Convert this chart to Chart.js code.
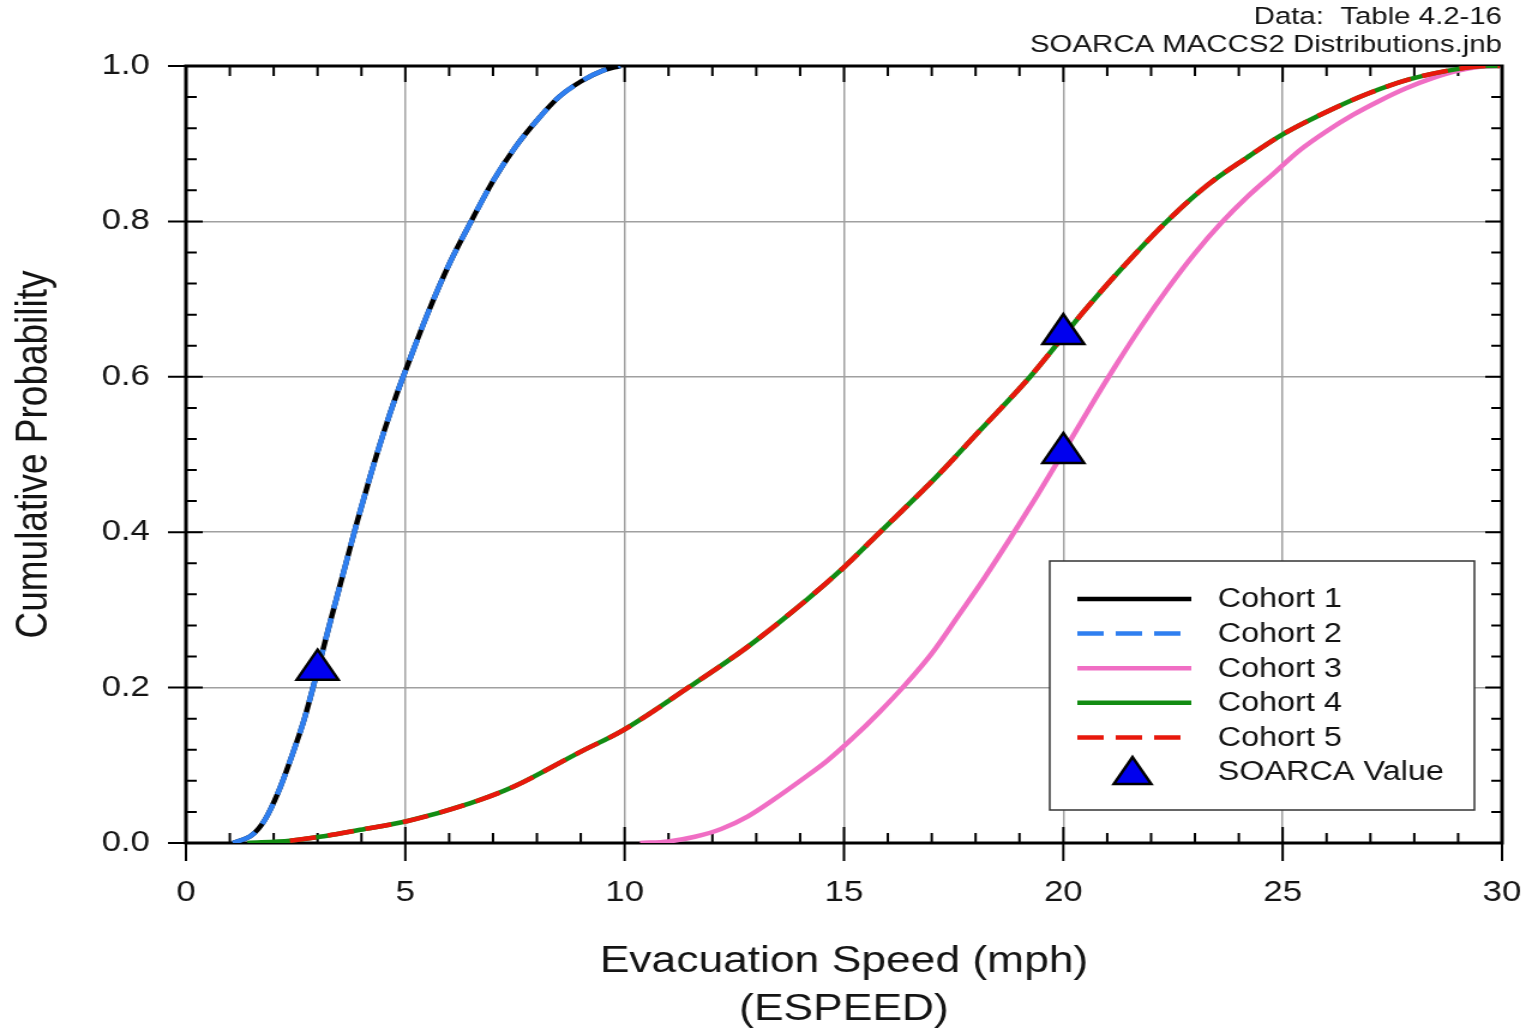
<!DOCTYPE html>
<html>
<head>
<meta charset="utf-8">
<script src="https://cdn.jsdelivr.net/npm/chart.js@4.4.0/dist/chart.umd.min.js"></script>
<style>
html,body{margin:0;padding:0;background:#fff;overflow:hidden}
/* the source picture is stretched sideways, so the chart is too */
#wrap{width:1277px;height:1030px;transform:scaleX(1.19969);transform-origin:0 0}
</style>
</head>
<body>
<div id="wrap"><canvas id="graph" width="1277" height="1030"></canvas></div>
<script>
// cohort 1 and 2 share one distribution, cohort 4 and 5 too
const cohort12Speed=[1.07,1.5,1.8,2.1,2.4,2.7,3.0,3.3,3.6,3.9,4.2,4.5,4.8,5.1,5.5,6.0,6.5,7.0,7.5,8.0,8.5,9.0,9.5,9.9]
const cohort12Prob=[0,0.01,0.03,0.065,0.11,0.16,0.222,0.287,0.35,0.413,0.472,0.527,0.577,0.622,0.68,0.745,0.8,0.852,0.895,0.93,0.96,0.98,0.994,1.0]
const cohort3Speed=[10.35,11.0,11.6,12.2,12.8,13.4,14.0,14.6,15.2,15.8,16.4,17.0,17.6,18.2,18.8,19.4,20.0,20.6,21.2,21.8,22.4,23.0,23.6,24.2,24.8,25.4,26.0,26.6,27.2,27.8,28.4,29.0,29.5,29.95]
const cohort3Prob=[0,0.002,0.008,0.018,0.034,0.056,0.08,0.105,0.135,0.168,0.204,0.244,0.292,0.341,0.393,0.447,0.503,0.56,0.615,0.667,0.715,0.759,0.798,0.832,0.862,0.892,0.916,0.937,0.955,0.971,0.984,0.994,0.999,1.0]
const cohort45Speed=[1.4,2.37,3.05,3.97,5.03,6.47,7.45,8.98,9.96,11.45,12.79,14.15,15.0,15.82,17.12,18.1,19.24,20.0,20.45,21.29,22.36,23.27,24.18,25.0,26.15,26.92,27.9,28.97,29.6,29.95]
const cohort45Prob=[0,0.003,0.008,0.017,0.028,0.051,0.072,0.117,0.145,0.2,0.252,0.313,0.355,0.4,0.472,0.531,0.6,0.652,0.683,0.737,0.8,0.846,0.882,0.912,0.945,0.964,0.983,0.996,1.0,1.0]
const soarcaSpeed=[3,20,20]
const soarcaProb=[0.223,0.655,0.502]
const xTicks=[0,5,10,15,20,25,30]
const xTickLabels=['0','5','10','15','20','25','30']
const yTicks=[0,0.2,0.4,0.6,0.8,1.0]
const yTickLabels=['0.0','0.2','0.4','0.6','0.8','1.0']
const noteLines=['Data:  Table 4.2-16','SOARCA MACCS2 Distributions.jnb']

const FONT="'Liberation Sans', Arial, sans-serif"
const INK='#141414'
const DASH=[22,10]

function pts(xs,ys){
    return xs.map((x,i)=>({x:x,y:ys[i]}))
}
function curve(label,xs,ys,color,dash,order){
    return {
        label:label,
        data:pts(xs,ys),
        showLine:true,
        borderColor:color,
        backgroundColor:color,
        borderWidth:4.5,
        borderDash:dash,
        pointRadius:0,
        cubicInterpolationMode:'monotone',
        order:order
    }
}

// frame and the little inward tick marks (every 1 mph / 0.04)
const frameTicks={
    id:'frameTicks',
    beforeDatasetsDraw(chart){
        const ctx=chart.ctx
        const a=chart.chartArea
        const sx=chart.scales.x, sy=chart.scales.y
        ctx.save()
        ctx.strokeStyle='#000'
        ctx.lineWidth=2
        ctx.beginPath()
        for(let v=0;v<=30;v++){
            const px=sx.getPixelForValue(v)
            const major=v%5==0
            const len=major?16:10
            ctx.moveTo(px,a.bottom+(major?18:0)); ctx.lineTo(px,a.bottom-len)
            ctx.moveTo(px,a.top); ctx.lineTo(px,a.top+len)
        }
        for(let k=0;k<=25;k++){
            const py=sy.getPixelForValue(k*0.04)
            const major=k%5==0
            const len=major?14:9
            ctx.moveTo(a.left-(major?15:0),py); ctx.lineTo(a.left+len,py)
            ctx.moveTo(a.right,py); ctx.lineTo(a.right-len,py)
        }
        ctx.stroke()
        ctx.lineWidth=3
        ctx.strokeRect(a.left,a.top,a.right-a.left,a.bottom-a.top)
        ctx.restore()
    }
}

function triangle(ctx,x,y,r){
    ctx.beginPath()
    ctx.moveTo(x,y-r)
    ctx.lineTo(x+r*Math.sin(Math.PI*2/3),y+r/2)
    ctx.lineTo(x-r*Math.sin(Math.PI*2/3),y+r/2)
    ctx.closePath()
    ctx.fill()
    ctx.stroke()
}

const boxLegend={
    id:'boxLegend',
    afterDraw(chart){
        const ctx=chart.ctx
        const a=chart.chartArea
        const left=a.right-377, top=561, w=354, h=249
        ctx.save()
        ctx.fillStyle='#fff'
        ctx.fillRect(left,top,w,h)
        ctx.strokeStyle='#333'
        ctx.lineWidth=1.5
        ctx.strokeRect(left,top,w,h)
        ctx.font='27px '+FONT
        ctx.textBaseline='middle'
        chart.data.datasets.forEach((ds,i)=>{
            const y=top+38+i*34.6
            if(ds.pointStyle=='triangle'){
                ctx.fillStyle=ds.backgroundColor
                ctx.strokeStyle=ds.borderColor
                ctx.lineWidth=2.5
                triangle(ctx,left+69,y+3,18)
            }else{
                ctx.strokeStyle=ds.borderColor
                ctx.lineWidth=4.5
                ctx.setLineDash(ds.borderDash||[])
                ctx.beginPath()
                ctx.moveTo(left+23,y)
                ctx.lineTo(left+118,y)
                ctx.stroke()
                ctx.setLineDash([])
            }
            ctx.fillStyle=INK
            ctx.fillText(ds.label,left+140,y+1)
        })
        ctx.restore()
    }
}

const topNote={
    id:'topNote',
    afterDraw(chart){
        const ctx=chart.ctx
        ctx.save()
        ctx.font='24.5px '+FONT
        ctx.fillStyle=INK
        ctx.textAlign='right'
        ctx.textBaseline='middle'
        noteLines.forEach((t,i)=>ctx.fillText(t,chart.chartArea.right,17+i*28))
        ctx.restore()
    }
}

Chart.defaults.font.family=FONT
Chart.defaults.color=INK

new Chart('graph',{
    type:'scatter',
    data:{
        datasets:[
            curve('Cohort 1',cohort12Speed,cohort12Prob,'#000000',[],5),
            curve('Cohort 2',cohort12Speed,cohort12Prob,'#2f7ff0',DASH,4),
            curve('Cohort 3',cohort3Speed,cohort3Prob,'#f06ec4',[],3),
            curve('Cohort 4',cohort45Speed,cohort45Prob,'#128c12',[],2),
            curve('Cohort 5',cohort45Speed.slice(1),cohort45Prob.slice(1),'#e8180c',DASH,1),
            {
                label:'SOARCA Value',
                data:pts(soarcaSpeed,soarcaProb),
                showLine:false,
                pointStyle:'triangle',
                pointRadius:20,
                pointBorderWidth:2.5,
                backgroundColor:'#0000ee',
                borderColor:'#000000',
                order:0
            }
        ]
    },
    options:{
        responsive:false,
        animation:false,
        events:[],
        layout:{padding:{top:66,right:25,left:0,bottom:0}},
        plugins:{
            legend:{display:false},
            tooltip:{enabled:false}
        },
        scales:{
            x:{
                type:'linear',
                min:0,max:30,
                afterBuildTicks:s=>{s.ticks=xTicks.map(v=>({value:v}))},
                afterFit:s=>{s.height=187; s.paddingLeft=0; s.paddingRight=0},
                border:{display:false},
                grid:{color:'#a0a0a0',lineWidth:1.5,drawTicks:false},
                ticks:{
                    autoSkip:false,maxRotation:0,
                    padding:33,
                    font:{size:29},
                    color:INK,
                    callback:(v,i)=>xTickLabels[i]
                },
                title:{
                    display:true,
                    text:['Evacuation Speed (mph)','(ESPEED)'],
                    font:{size:37,lineHeight:1.3},
                    padding:{top:0,bottom:-4},
                    color:INK
                }
            },
            y:{
                min:0,max:1,
                afterBuildTicks:s=>{s.ticks=yTicks.map(v=>({value:v}))},
                afterFit:s=>{s.width=155},
                border:{display:false},
                grid:{color:'#a0a0a0',lineWidth:1.5,drawTicks:false},
                ticks:{
                    autoSkip:false,
                    padding:30,
                    font:{size:29},
                    color:INK,
                    callback:(v,i)=>yTickLabels[i]
                },
                title:{
                    display:true,
                    text:'Cumulative Probability',
                    font:{size:37,lineHeight:1.2},
                    padding:{top:7,bottom:0},
                    color:INK
                }
            }
        }
    },
    plugins:[frameTicks,boxLegend,topNote]
})
</script>
</body>
</html>
